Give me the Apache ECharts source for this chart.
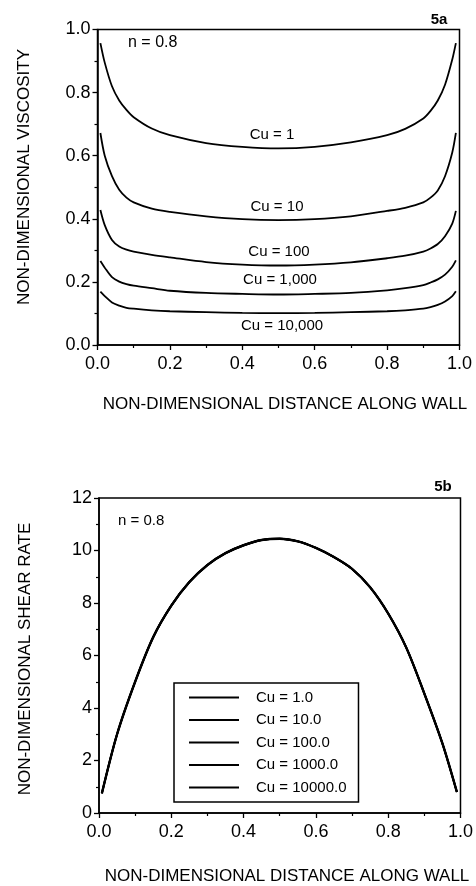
<!DOCTYPE html>
<html>
<head>
<meta charset="utf-8">
<script src="https://cdn.jsdelivr.net/npm/echarts@6/dist/echarts.min.js"></script>
<style>
html,body{margin:0;padding:0;background:#fff;}
#c{width:476px;height:886px;}
</style>
</head>
<body>
<div id="c"></div>
<script>
// ---- Data ----
// Fig 5a: non-dimensional viscosity vs distance along wall, n = 0.8
var distA = [0.008, 0.02, 0.04, 0.06, 0.08, 0.10, 0.15, 0.20, 0.30, 0.40, 0.50, 0.60, 0.70, 0.80, 0.85, 0.90, 0.92, 0.94, 0.96, 0.98, 0.99];
var viscCu1     = [0.957, 0.895, 0.82, 0.775, 0.745, 0.722, 0.686, 0.665, 0.640, 0.628, 0.623, 0.628, 0.642, 0.665, 0.685, 0.718, 0.742, 0.775, 0.825, 0.905, 0.957];
var viscCu10    = [0.672, 0.60, 0.535, 0.492, 0.467, 0.452, 0.432, 0.422, 0.408, 0.399, 0.396, 0.399, 0.408, 0.425, 0.435, 0.452, 0.467, 0.49, 0.535, 0.61, 0.672];
var viscCu100   = [0.428, 0.38, 0.333, 0.312, 0.302, 0.296, 0.286, 0.278, 0.263, 0.255, 0.252, 0.255, 0.262, 0.275, 0.283, 0.296, 0.306, 0.32, 0.345, 0.385, 0.425];
var viscCu1000  = [0.266, 0.245, 0.215, 0.201, 0.193, 0.188, 0.180, 0.172, 0.165, 0.162, 0.160, 0.162, 0.165, 0.173, 0.180, 0.190, 0.198, 0.208, 0.223, 0.248, 0.268];
var viscCu10000 = [0.169, 0.155, 0.135, 0.125, 0.118, 0.115, 0.110, 0.107, 0.104, 0.102, 0.101, 0.102, 0.104, 0.107, 0.110, 0.115, 0.120, 0.127, 0.138, 0.155, 0.170];
var curveNamesA = ['Cu = 1', 'Cu = 10', 'Cu = 100', 'Cu = 1,000', 'Cu = 10,000'];

// Fig 5b: non-dimensional shear rate vs distance along wall (all five Cu curves coincide)
var distB = [0.008, 0.05, 0.10, 0.15, 0.20, 0.25, 0.30, 0.35, 0.40, 0.45, 0.50, 0.55, 0.60, 0.65, 0.70, 0.75, 0.80, 0.85, 0.90, 0.95, 0.99];
var shearRate = [0.75, 3.0, 5.0, 6.7, 7.9, 8.8, 9.45, 9.9, 10.2, 10.4, 10.45, 10.35, 10.1, 9.75, 9.3, 8.6, 7.6, 6.3, 4.55, 2.65, 0.8];
var legendNamesB = ['Cu = 1.0', 'Cu = 10.0', 'Cu = 100.0', 'Cu = 1000.0', 'Cu = 10000.0'];

// tick labels
var xTicks = [0, 0.2, 0.4, 0.6, 0.8, 1.0];
var yTicksA = [0, 0.2, 0.4, 0.6, 0.8, 1.0];
var yTicksB = [0, 2, 4, 6, 8, 10, 12];

// ---- Chart ----
var FONT = "'Liberation Sans', Arial, Helvetica, sans-serif";
function pairs(xs, ys){ return xs.map(function(x,i){ return [x, ys[i]]; }); }

var seriesA = [viscCu1, viscCu10, viscCu100, viscCu1000, viscCu10000].map(function(v, i){
  return {
    name: curveNamesA[i], type: 'line', xAxisIndex: 0, yAxisIndex: 0,
    data: pairs(distA, v), symbol: 'none', smooth: 0.3,
    lineStyle: {color: '#000', width: 1.8}, silent: true
  };
});
var widthsB = [2.4, 1.9, 1.5, 1.9, 1.4];
var seriesB = legendNamesB.map(function(n, i){
  return {
    name: n, type: 'line', xAxisIndex: 1, yAxisIndex: 1,
    data: pairs(distB, shearRate), symbol: 'none', smooth: 0.3,
    lineStyle: {color: '#000', width: widthsB[i]}, itemStyle: {color: '#000'}, silent: true
  };
});

function xAxisCfg(gi){
  return {
    type: 'value', gridIndex: gi, min: xTicks[0], max: xTicks[xTicks.length-1], interval: 0.2,
    axisLine: {show: true, onZero: false, lineStyle: {color: '#000', width: 1.5}},
    axisTick: {show: true, length: 5, inside: false, lineStyle: {color: '#000', width: 1.3}},
    minorTick: {show: true, splitNumber: 2, length: 3, lineStyle: {color: '#000', width: 1.2}},
    splitLine: {show: false}, minorSplitLine: {show: false},
    axisLabel: {color: '#000', fontSize: 18, fontFamily: FONT, margin: 10,
      formatter: function(v){ return v.toFixed(1); }}
  };
}
function yAxisCfg(gi, ticks, interval, fmt){
  return {
    type: 'value', gridIndex: gi, min: ticks[0], max: ticks[ticks.length-1], interval: interval,
    axisLine: {show: true, onZero: false, lineStyle: {color: '#000', width: 1.5}},
    axisTick: {show: true, length: 5, inside: false, lineStyle: {color: '#000', width: 1.3}},
    minorTick: {show: true, splitNumber: 2, length: 3, lineStyle: {color: '#000', width: 1.2}},
    splitLine: {show: false}, minorSplitLine: {show: false},
    axisLabel: {color: '#000', fontSize: 18, fontFamily: FONT, margin: 7, formatter: fmt}
  };
}

function txt(text, x, y, size, opts){
  opts = opts || {};
  return {
    type: 'text', x: x, y: y, rotation: opts.rotation || 0, silent: true,
    style: {text: text, fill: '#000', font: (opts.weight || 'normal') + ' ' + size + 'px ' + FONT,
      align: opts.align || 'center', verticalAlign: 'middle'}
  };
}

var chart = echarts.init(document.getElementById('c'), null, {renderer: 'canvas'});
chart.setOption({
  animation: false,
  backgroundColor: '#fff',
  grid: [
    {left: 97.5, top: 29.5, width: 362, height: 315.5, show: true, borderColor: '#000', borderWidth: 1.5, containLabel: false},
    {left: 99, top: 498, width: 365, height: 315, show: true, borderColor: '#000', borderWidth: 1.5, containLabel: false}
  ],
  xAxis: [xAxisCfg(0), xAxisCfg(1)],
  yAxis: [
    yAxisCfg(0, yTicksA, 0.2, function(v){ return v.toFixed(1); }),
    yAxisCfg(1, yTicksB, 2, function(v){ return String(v); })
  ],
  legend: {
    data: legendNamesB, orient: 'vertical', left: 174, top: 683,
    itemWidth: 50, itemHeight: 14, itemGap: 7.5,
    padding: [7, 12, 7, 14],
    borderColor: '#000', borderWidth: 1.5, backgroundColor: '#fff',
    selectedMode: false,
    itemStyle: {opacity: 0, borderWidth: 0},
    textStyle: {color: '#000', fontSize: 15, fontFamily: FONT, padding: [0, 0, 0, 12]}
  },
  series: seriesA.concat(seriesB),
  graphic: [
    txt('NON-DIMENSIONAL VISCOSITY', 24, 177, 17, {rotation: Math.PI/2}),
    txt('NON-DIMENSIONAL DISTANCE ALONG WALL', 285, 404, 17),
    txt('NON-DIMENSIONAL SHEAR RATE', 25, 659, 17, {rotation: Math.PI/2}),
    txt('NON-DIMENSIONAL DISTANCE ALONG WALL', 287, 876, 17),
    txt('5a', 439, 20, 15, {weight: 'bold'}),
    txt('5b', 443, 487, 15, {weight: 'bold'}),
    txt('n = 0.8', 128, 43, 16, {align: 'left'}),
    txt('n = 0.8', 118, 521, 15, {align: 'left'}),
    txt('Cu = 1', 272, 135, 15),
    txt('Cu = 10', 277, 207, 15),
    txt('Cu = 100', 279, 252, 15),
    txt('Cu = 1,000', 280, 280, 15),
    txt('Cu = 10,000', 282, 326, 15)
  ]
});
</script>
</body>
</html>
